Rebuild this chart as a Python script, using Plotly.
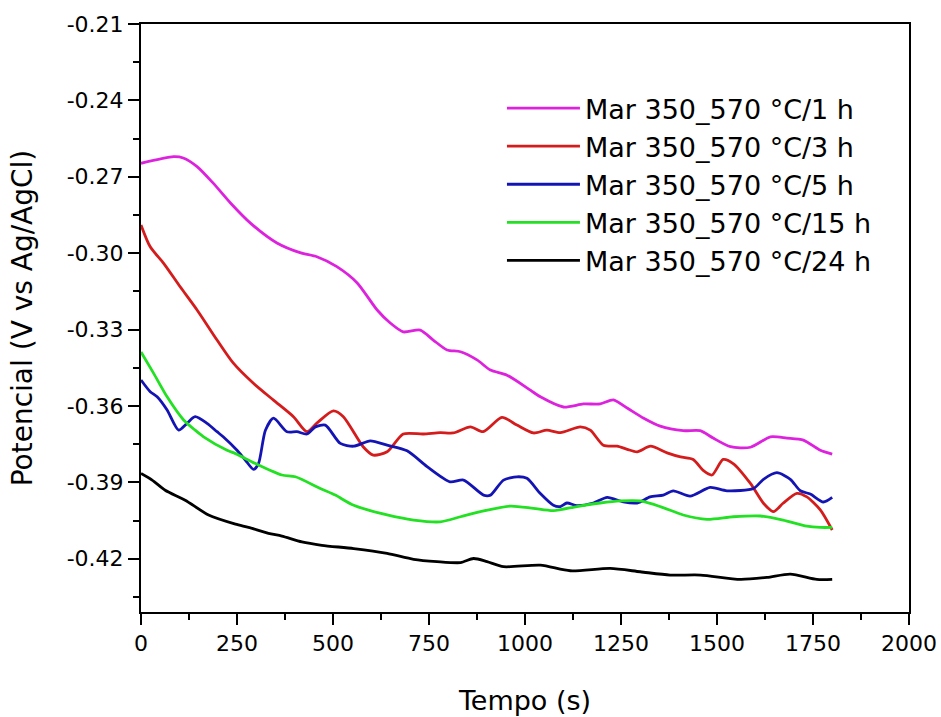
import plotly.graph_objects as go

# ---------------- data ----------------
t_1h = [0, 85, 110, 146, 188, 233, 285, 354, 416, 458, 510, 563, 615, 649, 683, 727, 761, 797, 832, 875,
        910, 953, 1014, 1040, 1100, 1152, 1196, 1230, 1266, 1308, 1352, 1412, 1456, 1490, 1535, 1587,
        1639, 1682, 1725, 1769, 1800]
e_1h = [-0.2647, -0.2621, -0.2626, -0.2660, -0.2725, -0.2803, -0.2882, -0.2960, -0.2999, -0.3014,
        -0.3053, -0.3117, -0.3223, -0.3274, -0.3309, -0.3302, -0.3341, -0.3380, -0.3387, -0.3419,
        -0.3459, -0.3479, -0.3538, -0.3564, -0.3604, -0.3592, -0.3592, -0.3576, -0.3608, -0.3647,
        -0.3679, -0.3697, -0.3697, -0.3726, -0.3760, -0.3762, -0.3721, -0.3726, -0.3734, -0.3774,
        -0.3789]

t_3h = [0, 24, 59, 102, 146, 198, 240, 292, 345, 397, 432, 458, 501, 527, 579, 605, 641, 683, 735, 779,
        813, 858, 891, 940, 979, 1022, 1057, 1092, 1144, 1170, 1204, 1240, 1266, 1292, 1327, 1370,
        1405, 1438, 1464, 1487, 1516, 1542, 1587, 1621, 1647, 1672, 1708, 1734, 1769, 1800]
e_3h = [-0.2889, -0.2975, -0.3040, -0.3132, -0.3223, -0.3341, -0.3431, -0.3510, -0.3577, -0.3642,
        -0.3701, -0.3667, -0.3619, -0.3642, -0.3761, -0.3793, -0.3780, -0.3710, -0.3710, -0.3705,
        -0.3706, -0.3682, -0.3701, -0.3645, -0.3675, -0.3706, -0.3695, -0.3705, -0.3682, -0.3695,
        -0.3754, -0.3758, -0.3770, -0.3780, -0.3758, -0.3784, -0.3800, -0.3810, -0.3853, -0.3871,
        -0.3810, -0.3826, -0.3904, -0.3982, -0.4015, -0.3982, -0.3943, -0.3957, -0.4008, -0.4087]

t_5h = [0, 24, 42, 68, 98, 120, 141, 172, 198, 214, 250, 272, 293, 306, 324, 345, 380, 406, 432, 454,
        480, 519, 554, 597, 641, 693, 745, 805, 840, 892, 910, 944, 979, 1005, 1040, 1074, 1092, 1109,
        1135, 1178, 1214, 1256, 1292, 1326, 1360, 1386, 1430, 1482, 1526, 1595, 1621, 1656, 1691,
        1717, 1743, 1777, 1800]
e_5h = [-0.3498, -0.3544, -0.3564, -0.3616, -0.3695, -0.3668, -0.3642, -0.3668, -0.3701, -0.3721,
        -0.3774, -0.3813, -0.3849, -0.3826, -0.3695, -0.3648, -0.3701, -0.3701, -0.3710, -0.3682,
        -0.3675, -0.3747, -0.3758, -0.3737, -0.3754, -0.3776, -0.3838, -0.3898, -0.3891, -0.3950,
        -0.3950, -0.3891, -0.3878, -0.3884, -0.3944, -0.3990, -0.3995, -0.3981, -0.3991, -0.3981,
        -0.3959, -0.3977, -0.3981, -0.3957, -0.3950, -0.3933, -0.3954, -0.3920, -0.3933, -0.3924,
        -0.3888, -0.3862, -0.3888, -0.3933, -0.3946, -0.3977, -0.3959]

t_15h = [0, 33, 68, 111, 141, 163, 224, 246, 298, 367, 402, 467, 506, 554, 641, 710, 779, 832, 884,
         962, 1022, 1074, 1135, 1196, 1248, 1300, 1352, 1412, 1474, 1542, 1613, 1672, 1734, 1769, 1800]
e_15h = [-0.3388, -0.3472, -0.3564, -0.3655, -0.3695, -0.3721, -0.3774, -0.3787, -0.3826, -0.3871,
         -0.3878, -0.3924, -0.3950, -0.3990, -0.4028, -0.4048, -0.4055, -0.4035, -0.4015, -0.3993,
         -0.4002, -0.4011, -0.3995, -0.3981, -0.3973, -0.3973, -0.3995, -0.4028, -0.4045, -0.4035,
         -0.4032, -0.4048, -0.4072, -0.4077, -0.4077]

t_24h = [0, 29, 63, 115, 176, 246, 280, 332, 367, 419, 471, 554, 641, 710, 771, 832, 866, 901, 944,
         1040, 1118, 1222, 1300, 1378, 1457, 1561, 1630, 1691, 1760, 1800]
e_24h = [-0.3865, -0.3891, -0.3931, -0.3970, -0.4028, -0.4064, -0.4077, -0.4100, -0.4111, -0.4134,
         -0.4147, -0.4160, -0.4179, -0.4202, -0.4211, -0.4215, -0.4199, -0.4211, -0.4231, -0.4225,
         -0.4247, -0.4238, -0.4251, -0.4264, -0.4264, -0.4281, -0.4273, -0.4260, -0.4281, -0.4281]

series_names = ["Mar 350_570 °C/1 h", "Mar 350_570 °C/3 h", "Mar 350_570 °C/5 h",
                "Mar 350_570 °C/15 h", "Mar 350_570 °C/24 h"]
series_colors = ["#DD22DD", "#D41C1C", "#1414B4", "#22E022", "#000000"]

x_tick_vals = [0, 250, 500, 750, 1000, 1250, 1500, 1750, 2000]
y_tick_vals = [-0.42, -0.39, -0.36, -0.33, -0.30, -0.27, -0.24, -0.21]
y_tick_text = ["-0.42", "-0.39", "-0.36", "-0.33", "-0.30", "-0.27", "-0.24", "-0.21"]

# ---------------- figure ----------------
FONT = "DejaVu Sans, Liberation Sans, Arial, sans-serif"
fig = go.Figure()
for xs, ys, name, col in zip([t_1h, t_3h, t_5h, t_15h, t_24h],
                             [e_1h, e_3h, e_5h, e_15h, e_24h],
                             series_names, series_colors):
    fig.add_trace(go.Scatter(x=xs, y=ys, mode="lines", name=name,
                             line=dict(color=col, width=2.8, shape="spline", smoothing=0.7)))

axis_common = dict(showline=True, linecolor="black", linewidth=2, mirror=True,
                   ticks="outside", tickwidth=2, tickcolor="black", showgrid=False,
                   zeroline=False, automargin=False,
                   tickfont=dict(family=FONT, size=22, color="black"))

fig.update_xaxes(range=[0, 2000], tickmode="array", tickvals=x_tick_vals, ticklen=11,
                 minor=dict(ticks="outside", ticklen=6, tickwidth=2, tickcolor="black",
                            tickmode="linear", tick0=0, dtick=125),
                 title=dict(text="Tempo (s)", font=dict(family=FONT, size=27, color="black"), standoff=36),
                 **axis_common)
fig.update_yaxes(range=[-0.4409, -0.21], tickmode="array", tickvals=y_tick_vals, ticktext=y_tick_text,
                 ticklen=11,
                 minor=dict(ticks="outside", ticklen=6, tickwidth=2, tickcolor="black",
                            tickmode="linear", tick0=-0.21, dtick=0.015),
                 title=dict(text="Potencial (V vs Ag/AgCl)", font=dict(family=FONT, size=28, color="black"),
                            standoff=26),
                 **axis_common)

fig.update_layout(
    width=941, height=717,
    margin=dict(l=141, r=32, t=24, b=105),
    paper_bgcolor="white", plot_bgcolor="white",
    font=dict(family=FONT, color="black"),
    legend=dict(x=0.47, y=0.898, xanchor="left", yanchor="top",
                font=dict(family=FONT, size=27, color="black"),
                bgcolor="rgba(0,0,0,0)", itemwidth=73, tracegroupgap=0),
)

fig.write_html("out.html")
